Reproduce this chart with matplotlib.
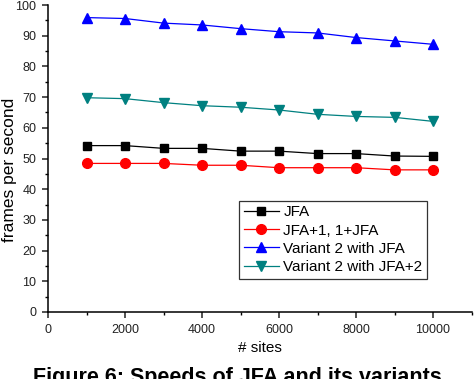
import matplotlib
matplotlib.use("Agg")
import matplotlib.pyplot as plt
from matplotlib.ticker import MultipleLocator, FormatStrFormatter

plt.rcParams['font.family'] = ['Liberation Sans', 'DejaVu Sans']

sites = [1000, 2000, 3000, 4000, 5000, 6000, 7000, 8000, 9000, 10000]
jfa = [54.2, 54.2, 53.3, 53.3, 52.4, 52.4, 51.6, 51.6, 50.8, 50.7]
jfa_plus1 = [48.4, 48.4, 48.4, 47.8, 47.8, 47.0, 47.0, 47.0, 46.3, 46.3]
variant2_jfa = [95.9, 95.6, 94.1, 93.5, 92.3, 91.3, 90.9, 89.4, 88.3, 87.2]
variant2_jfa2 = [69.8, 69.5, 68.2, 67.2, 66.7, 65.8, 64.4, 63.7, 63.4, 62.1]

fig = plt.figure(figsize=(4.74, 3.79), dpi=100)
ax = fig.add_axes([48/474, 67/379, 423.5/474, 307/379])

ax.plot(sites, jfa, color="black", lw=0.9, marker="s", ms=6, label="JFA")
ax.plot(sites, jfa_plus1, color="red", lw=0.9, marker="o", ms=7, label="JFA+1, 1+JFA")
ax.plot(sites, variant2_jfa, color="blue", lw=0.9, marker="^", ms=7.5, label="Variant 2 with JFA")
ax.plot(sites, variant2_jfa2, color="#008080", lw=0.9, marker="v", ms=7.5, label="Variant 2 with JFA+2")

ax.set_xlim(0, 11000)
ax.set_ylim(0, 100)
ax.xaxis.set_major_locator(MultipleLocator(2000))
ax.xaxis.set_minor_locator(MultipleLocator(1000))
ax.yaxis.set_major_locator(MultipleLocator(10))
ax.yaxis.set_minor_locator(MultipleLocator(5))
ax.xaxis.set_major_formatter(FormatStrFormatter("%d"))

for s in ["top", "right"]:
    ax.spines[s].set_visible(False)
for s in ["left", "bottom"]:
    ax.spines[s].set_linewidth(1.1)
ax.tick_params(which="major", direction="out", length=4.5, width=1.1, labelsize=9,
               colors="#222222", pad=4)
ax.tick_params(which="minor", direction="out", length=2.5, width=1.0)

ax.set_xlabel("# sites", fontsize=11, labelpad=4)
# y label sits right at the left edge like the original
fig.text(9.5/474, 1 - 170/379, "frames per second", rotation=90,
         ha="center", va="center", fontsize=12.5)

leg = ax.legend(loc="upper left", bbox_to_anchor=(239/474, 1 - 200.7/379),
                bbox_transform=fig.transFigure, borderaxespad=0, fontsize=11,
                fancybox=False, framealpha=1, edgecolor="#333333",
                handlelength=2.3, handletextpad=0.3, labelspacing=0.28,
                borderpad=0.3)
leg.get_frame().set_linewidth(0.9)

fig.text(0.5, 1 - 367/379, "Figure 6: Speeds of JFA and its variants",
         ha="center", va="top", fontsize=15.5, fontweight="bold")

fig.savefig("out.png", dpi=100)
